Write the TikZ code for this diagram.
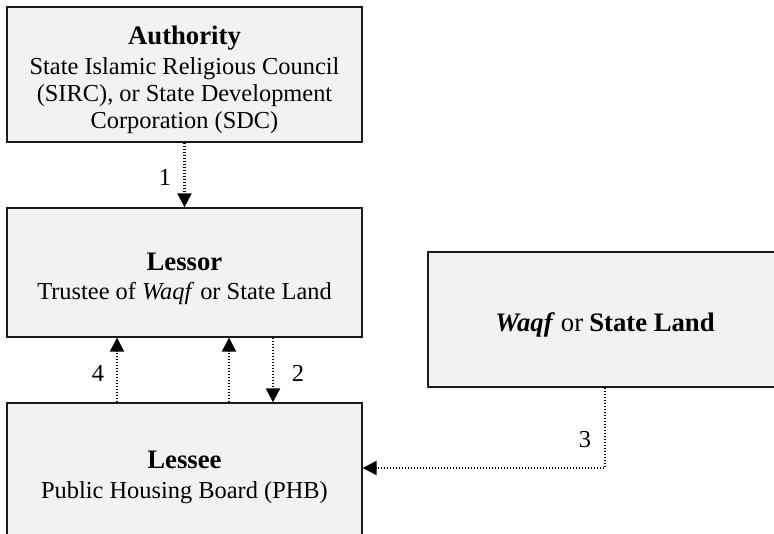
\documentclass[tikz,border=0pt]{standalone}
\usepackage{fontspec}
\setmainfont{Liberation Serif}
\usetikzlibrary{arrows.meta,calc}
\definecolor{boxfill}{HTML}{F2F2F2}
\definecolor{boxline}{HTML}{1A1A1A}
\newcommand{\ttl}[1]{{\fontsize{26.7}{29}\selectfont\textbf{#1}}}
\newcommand{\dn}[1]{\raisebox{-7pt}[\height][\depth]{\begin{tabular}{@{}c@{}}#1\end{tabular}}}
\tikzset{
  box/.style={draw=boxline, line width=1.3pt, fill=boxfill, minimum width=355pt, inner sep=0pt, font=\fontsize{24.4}{27}\selectfont},
  conn/.style={line width=2.1pt, dash pattern=on 1.6pt off 1.4pt, -{Triangle[width=14pt,length=14pt]}},
  lbl/.style={font=\fontsize{24.4}{27}\selectfont, inner sep=0pt}
}
\begin{document}
\begin{tikzpicture}[x=1pt,y=-1pt]
\useasboundingbox (0,0) rectangle (774,534);
\clip (0,0) rectangle (774,534);
\fill[white] (0,0) rectangle (774,534);
\node[box, minimum height=135pt] (auth) at (184.5,74.5) {\dn{\ttl{Authority}\\[3pt]State Islamic Religious Council\\(SIRC), or State Development\\Corporation (SDC)}};
\node[box, minimum height=129pt] (lessor) at (184.5,272.5) {\dn{\ttl{Lessor}\\[2pt]Trustee of \textit{Waqf} or State Land}};
\node[box, minimum height=137pt] (lessee) at (184.5,471.5) {\dn{\ttl{Lessee}\\[3pt]Public Housing Board (PHB)}};
\node[box, minimum width=354pt, minimum height=135pt] (waqf) at (605,319.5) {\dn{\ttl{\textit{Waqf}} {\fontsize{26.7}{29}\selectfont or} \ttl{State Land}}};
% connector 1
\draw[conn] (auth.south) -- (lessor.north);
\node[lbl] (l1) at (165,177) {1};
% connectors between lessor and lessee
\coordinate (x4) at (117,0);
\coordinate (xm) at (229,0);
\coordinate (x2) at (273,0);
\draw[conn] (lessee.north -| x4) -- (lessor.south -| x4);
\draw[conn] (lessee.north -| xm) -- (lessor.south -| xm);
\draw[conn] (lessor.south -| x2) -- (lessee.north -| x2);
\node[lbl] (l4) at (98,373) {4};
\node[lbl] (l2) at (298,373) {2};
% connector 3
\coordinate (c3) at (605,468);
\draw[conn] (waqf.south) -- (c3) -- (c3 -| lessee.east);
\node[lbl] (l3) at (585,440) {3};
\end{tikzpicture}
\end{document}
